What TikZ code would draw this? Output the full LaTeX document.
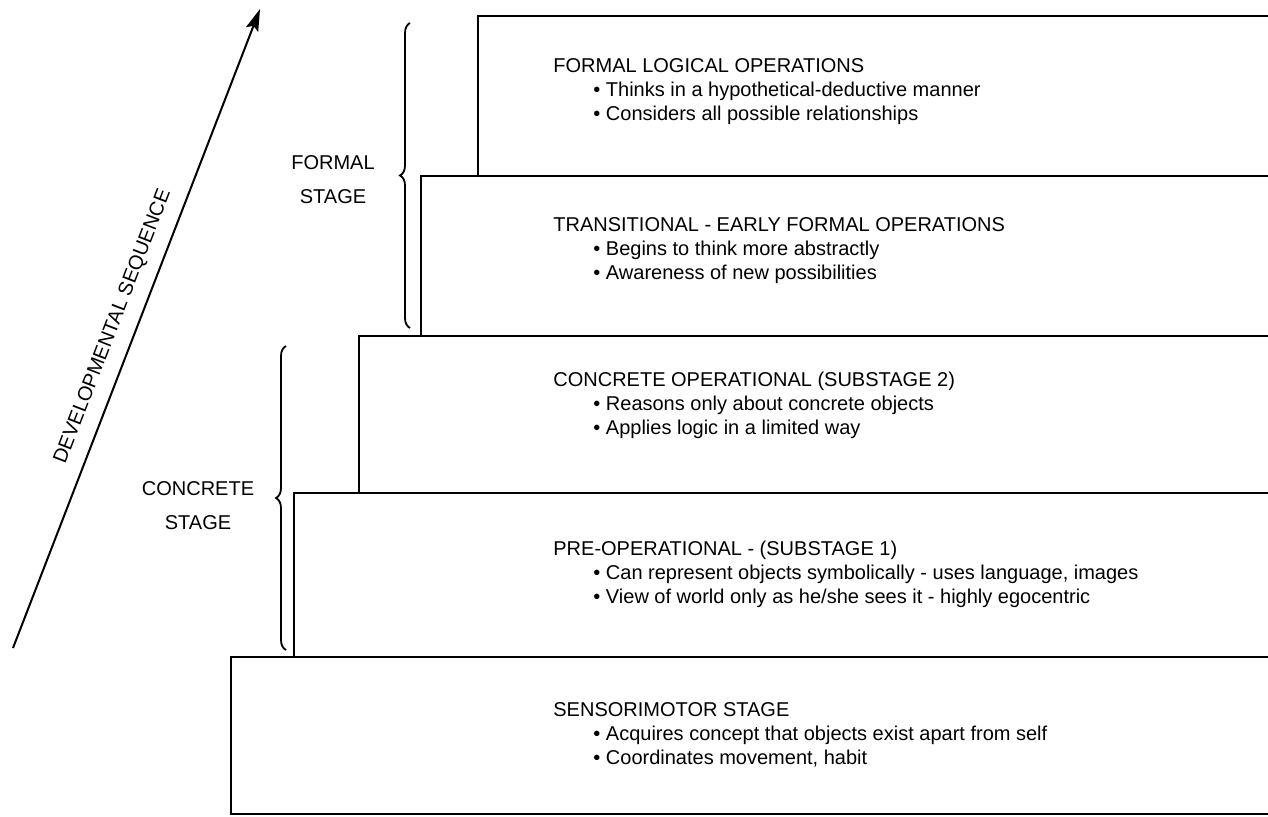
\documentclass[tikz,border=0pt]{standalone}
\usepackage{fontspec}
\setmainfont{Liberation Sans}
\usetikzlibrary{arrows.meta, decorations.pathreplacing}

% 圆点缩进
\newcommand{\bul}{\hspace*{20pt}\textbullet\ }

\begin{document}
\begin{tikzpicture}[x=0.5pt, y=-0.5pt,
  stepbox/.style={line width=1.2pt},
  stagetext/.style={anchor=north west, inner sep=0pt, align=left, font=\fontsize{10}{12}\selectfont},
  stagelabel/.style={align=center, inner sep=0pt, font=\fontsize{10}{17}\selectfont},
  stagebrace/.style={line width=0.9pt, decorate, decoration={brace, amplitude=5pt}}]

% 画布（像素坐标，y 向下）
\useasboundingbox (0,0) rectangle (1268,817);
\clip (0,0) rectangle (1268,817);

% 台阶：五个矩形，右边超出画布
\draw[stepbox] (478,16) rectangle (1290,176);
\draw[stepbox] (421,176) rectangle (1290,336);
\draw[stepbox] (359,336) rectangle (1290,493);
\draw[stepbox] (294,493) rectangle (1290,657);
\draw[stepbox] (231,657) rectangle (1290,814);

% 各阶段文字
\node[stagetext] (formalops) at (553,58)
  {FORMAL LOGICAL OPERATIONS\\
   \bul Thinks in a hypothetical-deductive manner\\
   \bul Considers all possible relationships};
\node[stagetext] (transops) at (553,217)
  {TRANSITIONAL - EARLY FORMAL OPERATIONS\\
   \bul Begins to think more abstractly\\
   \bul Awareness of new possibilities};
\node[stagetext] (concops) at (553,372)
  {CONCRETE OPERATIONAL (SUBSTAGE 2)\\
   \bul Reasons only about concrete objects\\
   \bul Applies logic in a limited way};
\node[stagetext] (preops) at (553,541)
  {PRE-OPERATIONAL - (SUBSTAGE 1)\\
   \bul Can represent objects symbolically - uses language, images\\
   \bul View of world only as he/she sees it - highly egocentric};
\node[stagetext] (sensori) at (553,702)
  {SENSORIMOTOR STAGE\\
   \bul Acquires concept that objects exist apart from self\\
   \bul Coordinates movement, habit};

% 大括号
\coordinate (formaltop) at (410,23);
\coordinate (formalbot) at (410,328);
\draw[stagebrace] (formalbot) -- (formaltop);
\coordinate (concretetop) at (286,346);
\coordinate (concretebot) at (286,650);
\draw[stagebrace] (concretebot) -- (concretetop);

% 括号左边的阶段名
\node[stagelabel] (formalstage) at (333,180) {FORMAL\\STAGE};
\node[stagelabel] (concretestage) at (198,506) {CONCRETE\\STAGE};

% 发展顺序箭头
\coordinate (seqstart) at (13,648);
\coordinate (seqend) at (260,9);
\draw[line width=1pt, -{Stealth[length=11pt, width=6.5pt, inset=2pt]}] (seqstart) -- (seqend)
  node[pos=0.49, sloped, above=3pt, font=\fontsize{10}{12}\selectfont] (seqlabel) {DEVELOPMENTAL SEQUENCE};

\end{tikzpicture}
\end{document}
